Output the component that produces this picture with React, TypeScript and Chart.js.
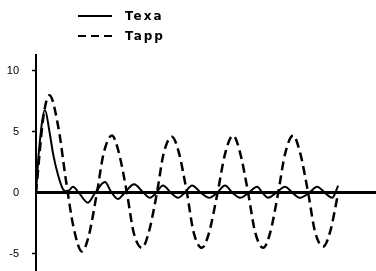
import React, { useEffect, useRef } from "react";
import { Chart, registerables } from "chart.js";

Chart.register(...registerables);

// Time axis (arbitrary units) and series values
const texaT = [0, 1, 3, 4.5, 5.7, 7.3, 9, 10.5, 12.3, 14.3, 17.3, 19.7, 23, 25, 27.3, 29.5, 32.7, 35.5, 38, 40, 42.3, 45, 47.3, 49.5, 52, 55, 57.7, 60.3, 63, 65.5, 68, 70.8, 73.7, 75.5, 77.3, 80, 83, 85.5, 88, 91, 93.7, 96.3, 98.7, 100.7];
const texaV = [0, 3.5, 6.8, 5.0, 3.2, 1.5, 0.3, 0.1, 0.5, 0.0, -0.8, 0.0, 0.9, 0.1, -0.5, 0.0, 0.7, 0.1, -0.4, 0.0, 0.6, 0.0, -0.4, 0.0, 0.6, 0.0, -0.4, 0.0, 0.6, 0.0, -0.4, 0.0, 0.5, 0.0, -0.4, 0.0, 0.5, 0.0, -0.4, 0.0, 0.5, 0.0, -0.4, 0.6];

const tappT = [0, 2.5, 4.5, 7.5, 10, 12.5, 15.3, 17.5, 20.3, 22.5, 25.3, 27.5, 30.3, 32.5, 35.3, 37.5, 40.3, 42.5, 45.3, 47.5, 50.3, 52.5, 55.3, 57.5, 60.5, 63, 65.7, 68, 70.7, 73, 75.7, 78, 80.7, 83, 85.7, 88, 90.7, 93, 95.7, 98, 100.7];
const tappV = [0, 6.3, 8.0, 5.3, 1.0, -2.8, -4.8, -3.6, 0, 3.2, 4.7, 3.4, 0, -3.2, -4.5, -3.3, 0, 3.2, 4.6, 3.4, 0, -3.2, -4.5, -3.4, 0, 3.2, 4.7, 3.3, 0, -3.2, -4.5, -3.3, 0, 3.2, 4.7, 3.3, 0, -3.2, -4.4, -3.2, 0];

const yTicks = [-5, 0, 5, 10];
const seriesNames = ["Texa", "Tapp"];

function toPoints(t: number[], v: number[]) {
  return t.map((x, i) => ({ x, y: v[i] }));
}

export default function App() {
  const canvasRef = useRef<HTMLCanvasElement | null>(null);

  useEffect(() => {
    const canvas = canvasRef.current;
    if (!canvas) return;
    const chart = new Chart(canvas, {
      type: "line",
      data: {
        datasets: [
          {
            label: seriesNames[0],
            data: toPoints(texaT, texaV),
            borderColor: "#000",
            borderWidth: 2,
            pointRadius: 0,
            cubicInterpolationMode: "monotone",
          },
          {
            label: seriesNames[1],
            data: toPoints(tappT, tappV),
            borderColor: "#000",
            borderWidth: 2.5,
            borderDash: [9, 5],
            pointRadius: 0,
            cubicInterpolationMode: "monotone",
          },
        ],
      },
      options: {
        responsive: false,
        animation: false,
        devicePixelRatio: 1,
        layout: { padding: { top: 55, left: 0, right: 0, bottom: 0 } },
        plugins: { legend: { display: false }, tooltip: { enabled: false } },
        scales: {
          x: {
            type: "linear",
            min: 0,
            max: 113.3,
            display: false,
          },
          y: {
            type: "linear",
            min: -6.4,
            max: 11.3,
            afterBuildTicks: (scale: any) => {
              scale.ticks = yTicks.map((v) => ({ value: v }));
            },
            afterFit: (scale: any) => {
              scale.width = 36;
              scale.paddingTop = 0;
              scale.paddingBottom = 0;
            },
            border: { display: true, color: "#000", width: 2 },
            grid: {
              display: true,
              drawOnChartArea: true,
              drawTicks: true,
              tickLength: 4,
              color: (ctx: any) => (ctx.tick && ctx.tick.value === 0 ? "#000" : "rgba(0,0,0,0)"),
              lineWidth: (ctx: any) => (ctx.tick && ctx.tick.value === 0 ? 3 : 1),
              tickColor: (ctx: any) => (ctx.tick && ctx.tick.value === 0 ? "rgba(0,0,0,0)" : "#000"),
              tickWidth: 1.5,
            },
            ticks: {
              color: "#000",
              padding: 13,
              font: { family: "Liberation Sans", size: 11 },
            },
          },
        },
      },
    });
    return () => chart.destroy();
  }, []);

  const legendRow = (dashed: boolean, label: string, top: number) => (
    <div
      style={{
        position: "absolute",
        left: 78,
        top,
        display: "flex",
        alignItems: "center",
        height: 14,
      }}
    >
      <span
        style={{
          display: "inline-block",
          width: 34,
          height: 2,
          background: dashed
            ? "repeating-linear-gradient(to right, #000 0px, #000 8px, transparent 8px, transparent 13px)"
            : "#000",
        }}
      />
      <span
        style={{
          marginLeft: 13,
          fontFamily: "DejaVu Sans",
          fontWeight: "bold",
          fontSize: 12,
          letterSpacing: 2,
          color: "#000",
          lineHeight: "14px",
        }}
      >
        {label}
      </span>
    </div>
  );

  return (
    <div style={{ position: "absolute", left: 0, top: 0, width: 376, height: 271, background: "#fff" }}>
      <canvas ref={canvasRef} width={376} height={271} style={{ display: "block" }} />
      {legendRow(false, seriesNames[0], 9)}
      {legendRow(true, seriesNames[1], 29)}
    </div>
  );
}
